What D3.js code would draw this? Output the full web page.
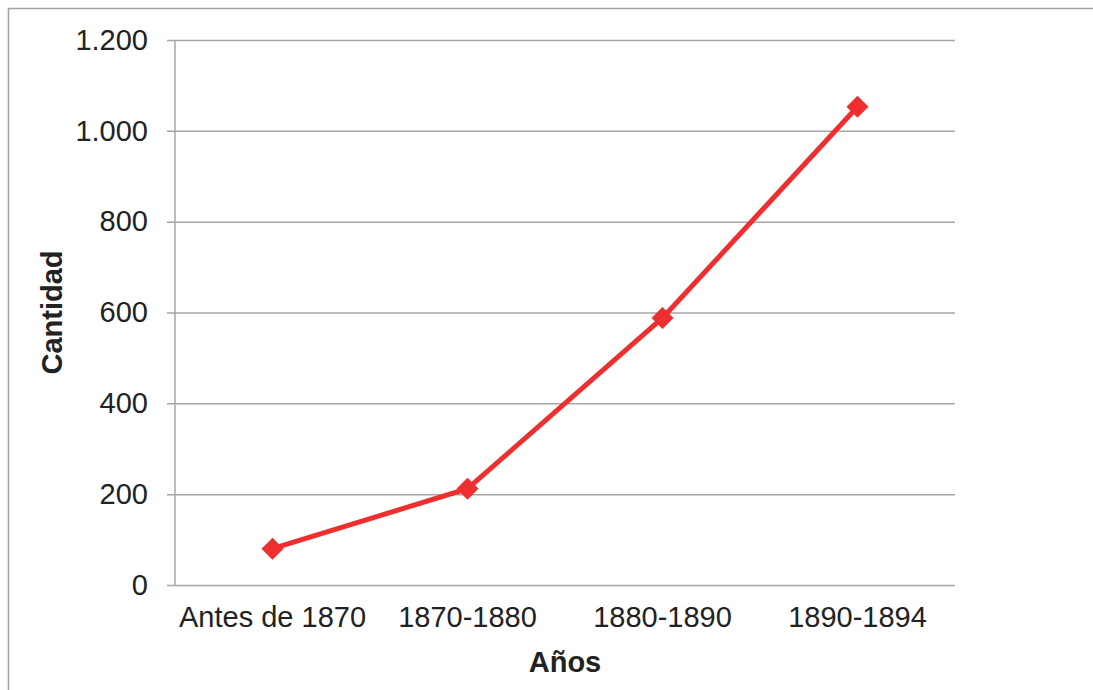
<!DOCTYPE html>
<html>
  <head>
    <meta charset="utf-8">
    <script src="https://d3js.org/d3.v7.min.js"></script>
    <style>
      body { margin: 0; background: #fff; }
      svg { display: block; font-family: "Liberation Sans", Arial, sans-serif; }
    </style>
  </head>
<body>
<script>
"use strict";

var categories = ["Antes de 1870", "1870-1880", "1880-1890", "1890-1894"];
var values = [80, 212, 588, 1053];
var yTicks = [0, 200, 400, 600, 800, 1000, 1200];

var width = 1093, height = 690;
var margin = {left: 175, right: 138, top: 40, bottom: 105};

var svg = d3.select("body").append("svg")
    .attr("width", width)
    .attr("height", height);

// outer frame (left and top edges visible)
svg.append("path")
    .attr("d", "M8.5," + height + "V8.5H" + width)
    .style("fill", "none")
    .style("stroke", "#a3a3a3")
    .style("stroke-width", 1.5);

var x = d3.scaleBand()
    .domain(categories)
    .range([margin.left, width - margin.right]);

var y = d3.scaleLinear()
    .domain([0, 1200])
    .range([height - margin.bottom, margin.top]);

var fmt = function(d) { return d3.format(",")(d).replace(/,/g, "."); };

// gridlines + y ticks
var yAxis = svg.append("g")
    .attr("transform", "translate(" + margin.left + ",0)")
    .call(d3.axisLeft(y).tickValues(yTicks).tickSize(8).tickPadding(19).tickFormat(fmt));
yAxis.select(".domain").remove();
yAxis.selectAll(".tick line")
    .attr("x2", width - margin.right - margin.left)
    .attr("x1", -8)
    .style("stroke", "#a6a6a6")
    .style("stroke-width", 1.5);
yAxis.selectAll(".tick text")
    .style("font-size", "29px")
    .style("fill", "#222");

// vertical axis line
svg.append("line")
    .attr("x1", margin.left).attr("x2", margin.left)
    .attr("y1", y(1200)).attr("y2", y(0))
    .style("stroke", "#a6a6a6")
    .style("stroke-width", 1.5);

// x labels
var xAxis = svg.append("g")
    .attr("transform", "translate(0," + y(0) + ")")
    .call(d3.axisBottom(x).tickSize(0).tickPadding(21));
xAxis.select(".domain").remove();
xAxis.selectAll(".tick text")
    .style("font-size", "29px")
    .style("fill", "#222");

// line
var data = categories.map(function(c, i) { return {c: c, v: values[i]}; });
svg.append("path")
    .datum(data)
    .attr("d", d3.line()
        .x(function(d) { return x(d.c) + x.bandwidth() / 2; })
        .y(function(d) { return y(d.v); }))
    .style("fill", "none")
    .style("stroke", "#ee2e2f")
    .style("stroke-width", 5);

svg.selectAll(".marker")
    .data(data)
    .enter().append("path")
    .attr("class", "marker")
    .attr("transform", function(d) {
        return "translate(" + (x(d.c) + x.bandwidth() / 2) + "," + y(d.v) + ")";
    })
    .attr("d", "M0,-11L11,0L0,11L-11,0Z")
    .style("fill", "#ee2e2f");

// axis titles
svg.append("text")
    .attr("x", (margin.left + width - margin.right) / 2)
    .attr("y", 672)
    .style("text-anchor", "middle")
    .style("font-size", "29px")
    .style("font-weight", "bold")
    .style("fill", "#222")
    .text("Años");

svg.append("text")
    .attr("transform", "translate(62," + y(600) + ") rotate(-90)")
    .style("text-anchor", "middle")
    .style("font-size", "29px")
    .style("font-weight", "bold")
    .style("fill", "#222")
    .text("Cantidad");
</script>
</body>
</html>
